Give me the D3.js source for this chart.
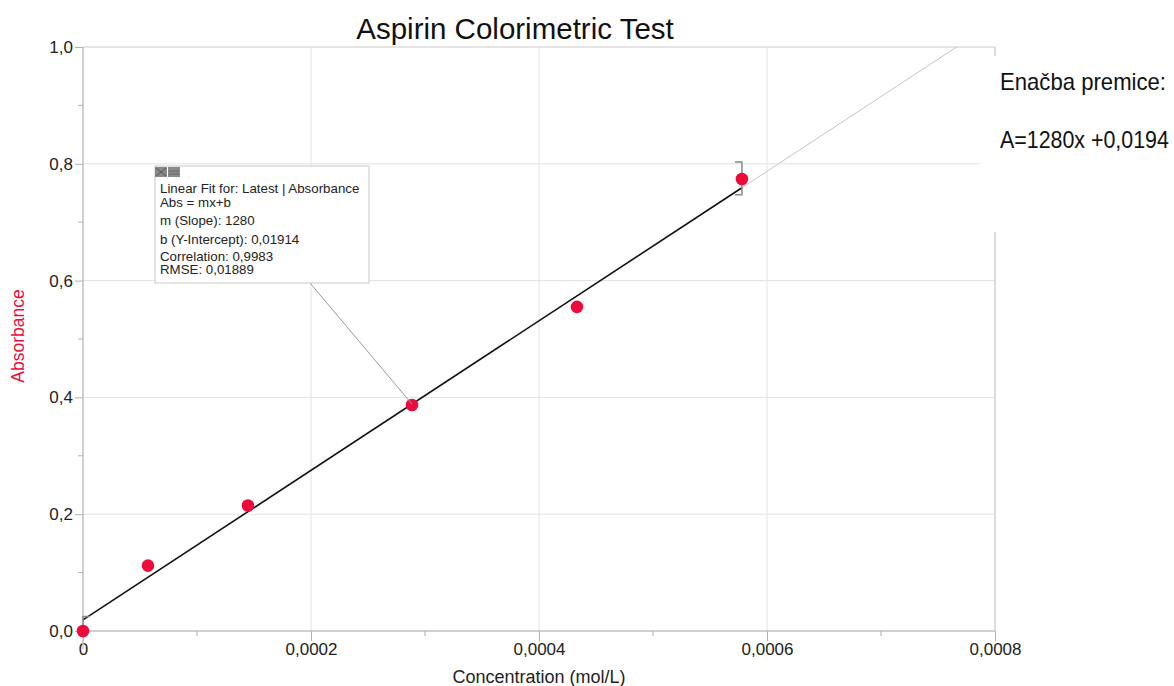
<!DOCTYPE html>
<html>
<head>
<meta charset="utf-8">
<script src="https://cdn.jsdelivr.net/npm/d3@7"></script>
<style>
  body { margin: 0; background: #fff; }
  svg text { font-family: "Liberation Sans", Arial, sans-serif; }
</style>
</head>
<body>
<div id="chart"></div>
<script>
// data
const concentration = [0, 0.0000570, 0.0001447, 0.0002886, 0.0004333, 0.000578];
const absorbance    = [0.0, 0.112, 0.215, 0.387, 0.555, 0.774];
const xTicks = [0, 0.0002, 0.0004, 0.0006, 0.0008];
const xTickLabels = ['0', '0,0002', '0,0004', '0,0006', '0,0008'];
const yTicks = [0, 0.2, 0.4, 0.6, 0.8, 1.0];
const yTickLabels = ['0,0', '0,2', '0,4', '0,6', '0,8', '1,0'];
const fitSlope = 1280, fitIntercept = 0.01914;
const fitLines = ['Linear Fit for: Latest | Absorbance', 'Abs = mx+b', 'm (Slope): 1280',
                  'b (Y-Intercept): 0,01914', 'Correlation: 0,9983', 'RMSE: 0,01889'];
const noteLines = ['Enačba premice:', 'A=1280x +0,0194'];

const width = 1174, height = 686;
const margin = {top: 47, right: 179, bottom: 55, left: 83};
const red = '#ec0c3c';

const svg = d3.select('#chart')
    .append('svg')
      .attr('width', width)
      .attr('height', height);

const x = d3.scaleLinear().domain([0, 0.0008]).range([margin.left, width - margin.right]);
const y = d3.scaleLinear().domain([0, 1]).range([height - margin.bottom, margin.top]);

// grid
svg.append('g').selectAll('line')
    .data(xTicks.slice(1))
    .enter().append('line')
      .attr('x1', d => x(d)).attr('x2', d => x(d))
      .attr('y1', y(0)).attr('y2', y(1))
      .attr('stroke', '#e2e2e2');
svg.append('g').selectAll('line')
    .data(yTicks.slice(1))
    .enter().append('line')
      .attr('x1', x(0)).attr('x2', x(0.0008))
      .attr('y1', d => y(d)).attr('y2', d => y(d))
      .attr('stroke', '#e2e2e2');

// frame
svg.append('line').attr('x1', x(0.0008)).attr('x2', x(0.0008))
    .attr('y1', y(0)).attr('y2', y(1)).attr('stroke', '#c8c8c8');
svg.append('line').attr('x1', x(0)).attr('x2', x(0.0008))
    .attr('y1', y(1)).attr('y2', y(1)).attr('stroke', '#d8d8d8');

// axes
const xAxis = svg.append('g')
    .attr('transform', `translate(0,${y(0)})`)
    .call(d3.axisBottom(x).tickValues(xTicks).tickFormat((d, i) => xTickLabels[i]).tickSize(10).tickPadding(2));
const yAxis = svg.append('g')
    .attr('transform', `translate(${x(0)},0)`)
    .call(d3.axisLeft(y).tickValues(yTicks).tickFormat((d, i) => yTickLabels[i]).tickSize(8).tickPadding(2));

[xAxis, yAxis].forEach(a => {
    a.select('.domain').attr('stroke', '#c0c0c0').attr('stroke-width', 1.5);
    a.selectAll('.tick line').attr('stroke', '#b0b0b0');
    a.selectAll('.tick text').attr('fill', '#222').style('font-size', '17px')
        .style('font-family', '"Liberation Sans", Arial, sans-serif');
});
xAxis.select('.domain').attr('d', `M${x(0)},0H${x(0.0008)}`);
yAxis.select('.domain').attr('d', `M0,${y(1)}V${y(0) + 18}`);

// minor ticks
svg.append('g').selectAll('line')
    .data(d3.range(1, 8, 2).map(i => i * 0.0001))
    .enter().append('line')
      .attr('x1', d => x(d)).attr('x2', d => x(d))
      .attr('y1', y(0)).attr('y2', y(0) + 5)
      .attr('stroke', '#b0b0b0');
svg.append('g').selectAll('line')
    .data(d3.range(1, 10, 2).map(i => i * 0.1))
    .enter().append('line')
      .attr('x1', x(0) - 5).attr('x2', x(0))
      .attr('y1', d => y(d)).attr('y2', d => y(d))
      .attr('stroke', '#b0b0b0');

// fit line: thin gray extension, black inside data range
const xEnd = (1 - fitIntercept) / fitSlope;
const xLast = d3.max(concentration);
svg.append('line')
    .attr('x1', x(xLast)).attr('y1', y(fitSlope * xLast + fitIntercept))
    .attr('x2', x(xEnd)).attr('y2', y(1))
    .attr('stroke', '#c4c4c4').attr('stroke-width', 1);
svg.append('line')
    .attr('x1', x(0)).attr('y1', y(fitIntercept))
    .attr('x2', x(xLast)).attr('y2', y(fitSlope * xLast + fitIntercept))
    .attr('stroke', '#111').attr('stroke-width', 1.6);

// range brackets
svg.append('path')
    .attr('d', `M${x(0) + 7},${y(0.025)}H${x(0)}V${y(0)}`)
    .attr('fill', 'none').attr('stroke', '#888').attr('stroke-width', 1.5);
svg.append('path')
    .attr('d', `M${x(xLast) - 7},${y(0.803)}H${x(xLast)}V${y(0.747)}H${x(xLast) - 7}`)
    .attr('fill', 'none').attr('stroke', '#888').attr('stroke-width', 1.5);

// points
svg.append('g').selectAll('circle')
    .data(concentration.map((c, i) => ({c, a: absorbance[i]})))
    .enter().append('circle')
      .attr('cx', d => x(d.c))
      .attr('cy', d => y(d.a))
      .attr('r', 6.3)
      .attr('fill', red);

// annotation leader + box
const boxX = 155, boxY = 166, boxW = 214, boxH = 117;
svg.append('line')
    .attr('x1', 310).attr('y1', boxY + boxH)
    .attr('x2', x(concentration[3])).attr('y2', y(fitSlope * concentration[3] + fitIntercept))
    .attr('stroke', '#999').attr('stroke-width', 1);
svg.append('rect')
    .attr('x', boxX).attr('y', boxY).attr('width', boxW).attr('height', boxH)
    .attr('fill', '#fff').attr('stroke', '#c8c8c8');
svg.append('rect').attr('x', boxX).attr('y', boxY + 1).attr('width', 12).attr('height', 10).attr('fill', '#8a8a8a');
svg.append('path').attr('d', `M${boxX + 1},${boxY + 2}l10,8m0,-8l-10,8`).attr('stroke', '#555').attr('stroke-width', 1);
svg.append('rect').attr('x', boxX + 13).attr('y', boxY + 1).attr('width', 12).attr('height', 10).attr('fill', '#8a8a8a');
svg.append('path').attr('d', `M${boxX + 14},${boxY + 5}h10m-10,3h10`).attr('stroke', '#666').attr('stroke-width', 1);
const lineY = [193, 207, 225, 244, 261, 274];
svg.append('g').selectAll('text')
    .data(fitLines)
    .enter().append('text')
      .attr('x', 160)
      .attr('y', (d, i) => lineY[i])
      .style('font-size', '13.3px')
      .attr('fill', '#222')
      .text(d => d);

// white panel on the right with equation (condensed by horizontal scale)
svg.append('rect')
    .attr('x', 980).attr('y', 56).attr('width', 194).attr('height', 176)
    .attr('fill', '#fff');
const noteY = [90, 148], noteW = [166, 169];
svg.append('g').selectAll('text')
    .data(noteLines)
    .enter().append('text')
      .style('font-size', '24px').attr('fill', '#111')
      .text(d => d)
      .attr('transform', function(d, i) {
          const s = noteW[i] / this.getComputedTextLength();
          return `translate(1000,${noteY[i]}) scale(${s},1)`;
      });

// titles
svg.append('text')
    .attr('x', 515).attr('y', 39)
    .attr('text-anchor', 'middle')
    .style('font-size', '29.5px').attr('fill', '#111')
    .text('Aspirin Colorimetric Test');
svg.append('text')
    .attr('x', 539).attr('y', 683)
    .attr('text-anchor', 'middle')
    .style('font-size', '18px').attr('fill', '#222')
    .text('Concentration (mol/L)');
svg.append('text')
    .attr('transform', `translate(24,${y(0.5) - 3}) rotate(-90)`)
    .attr('text-anchor', 'middle')
    .style('font-size', '17.5px').attr('fill', red)
    .text('Absorbance');
</script>
</body>
</html>
